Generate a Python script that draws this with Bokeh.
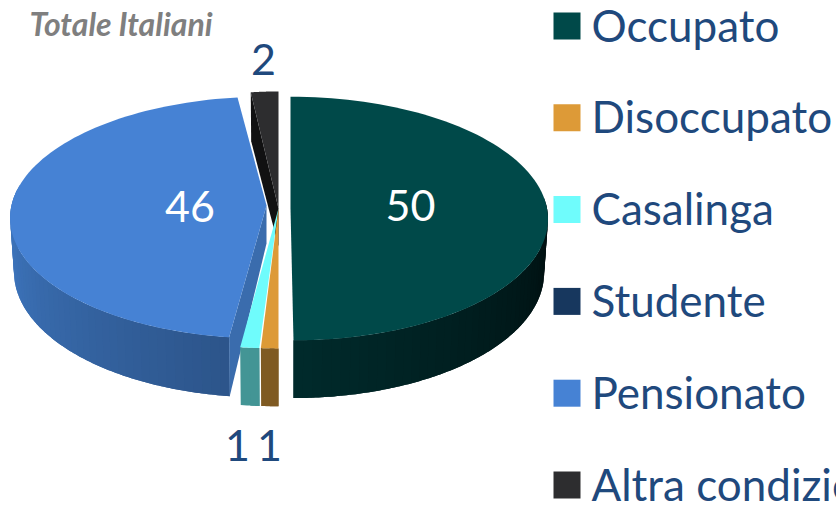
import math
from bokeh.plotting import figure
from bokeh.models import Range1d
from bokeh.core.properties import value
from bokeh.embed import file_html
from bokeh.resources import INLINE

categories = ["Occupato", "Disoccupato", "Casalinga", "Studente", "Pensionato", "Altra condizione"]
shares = [50, 1, 1, 0, 46, 2]
slice_colors = ["#004949", "#DD9A37", "#6FFCFC", "#17375E", "#4682D4", "#2D2D2F"]
title_text = "Totale Italiani"

# geometry of each exploded slice: centre x, centre y, half width, half height, perspective, tilt
geometry = {
    "Occupato": (290, 208, 255, 121, 0.082, 3),
    "Disoccupato": (278, 208, 257, 128, 0.085, 0),
    "Casalinga": (278, 208, 280, 128, 0.085, 0),
    "Pensionato": (266, 205, 254, 119.7, 0.100, -2),
    "Altra condizione": (278, 208, 240, 127, 0.085, 0),
}
DEPTH, APEX_DEPTH, SHRINK = 53, 38, 0.985
wall_colors = {
    "Occupato": ("#002B2C", "#000E0F"),
    "Disoccupato": ("#7F5A22", "#7F5A22"),
    "Casalinga": ("#439595", "#439595"),
    "Pensionato": ("#2B5286", "#3F78C2"),
}
inner_colors = {"Pensionato": "#3A6CAD", "Altra condizione": "#111112"}


def mix(c1, c2, t):
    a = [int(c1[i:i + 2], 16) for i in (1, 3, 5)]
    b = [int(c2[i:i + 2], 16) for i in (1, 3, 5)]
    return "#%02x%02x%02x" % tuple(round(x + (y - x) * t) for x, y in zip(a, b))


def top_point(name, deg):
    cx, cy, a, b, k, tilt = geometry[name]
    th = math.radians(deg)
    u, v = math.sin(th), -math.cos(th)
    w = 1 - k * v
    return cx + a * u / w + tilt * (v + 1) / 2, cy + b * v / w


def bottom_point(name, deg):
    cx, cy, a, b, k, tilt = geometry[name]
    x, y = top_point(name, deg)
    v = -math.cos(math.radians(deg))
    return cx + (x - cx) * SHRINK, y + DEPTH / (1 - k * v)


def arc(d0, d1, n=90):
    return [d0 + (d1 - d0) * i / n for i in range(n + 1)]


spans = {}
acc = 0.0
total = sum(shares)
for c, s in zip(categories, shares):
    spans[c] = (acc, acc + 360.0 * s / total)
    acc += 360.0 * s / total

xs, ys, colors = [], [], []


def add(px, py, col):
    xs.append(px)
    ys.append(py)
    colors.append(col)


def add_inner(name, tip_deg):
    cx, cy = geometry[name][:2]
    tx, ty = top_point(name, tip_deg)
    bx, by = bottom_point(name, tip_deg)
    add([tx, bx, cx, cx], [ty, by, cy + APEX_DEPTH, cy], inner_colors[name])


def add_wall(name, d0, d1, n=48):
    left, right = wall_colors[name]
    ds = arc(d0, d1, n)
    # strips run from the far end towards the near end and overlap, so no seams show
    order = list(range(n))
    if d0 >= 180:
        order = order[::-1]
    for i in order:
        j = min(i + 1, n)
        k0 = max(i - 1, 0) if d0 >= 180 else i
        k1 = j if d0 >= 180 else min(i + 2, n)
        a, b = ds[k0], ds[k1]
        top = [top_point(name, d) for d in arc(a, b, 6)]
        bot = [bottom_point(name, d) for d in arc(b, a, 6)]
        t = min(abs(ds[i] - 180) / 90, 1)
        add([q[0] for q in top + bot], [q[1] for q in top + bot], mix(left, right, t))


def add_top(name, col):
    d0, d1 = spans[name]
    cx, cy = geometry[name][:2]
    pts = [top_point(name, d) for d in arc(d0, d1)]
    add([cx] + [q[0] for q in pts], [cy] + [q[1] for q in pts], col)


color_of = dict(zip(categories, slice_colors))

# back to front
name = "Altra condizione"
add_inner(name, spans[name][0])
add_top(name, color_of[name])

name = "Pensionato"
add_wall(name, spans[name][0], min(spans[name][1], 280))
add_inner(name, spans[name][0])
add_top(name, color_of[name])

name = "Casalinga"
add_wall(name, spans[name][0], spans[name][1], 2)
add_top(name, color_of[name])

name = "Disoccupato"
add_wall(name, spans[name][0], spans[name][1], 2)
add_top(name, color_of[name])

name = "Occupato"
add_wall(name, 85, 180)
add_top(name, color_of[name])

W, H = 836, 505
p = figure(width=W, height=H, output_backend="svg", toolbar_location=None,
           x_range=Range1d(0, W), y_range=Range1d(H, 0), min_border=0)
p.axis.visible = False
p.grid.visible = False
p.outline_line_color = None
p.background_fill_color = "white"
p.border_fill_color = "white"

p.patches(xs, ys, fill_color=colors, line_color=None)

# legend
leg_x, leg_size, leg_top, leg_step = 553, 27, 12, 91.8
for i, (c, col) in enumerate(zip(categories, slice_colors)):
    y0 = leg_top + i * leg_step
    p.quad(left=[leg_x], right=[leg_x + leg_size], top=[y0], bottom=[y0 + leg_size], fill_color=col, line_color=None)
    p.text([591], [y0 + leg_size / 2 - 1.5], text=[c], text_font=value("Lato"), text_font_size="44px",
           text_color="#1F497D", text_align="left", text_baseline="middle")

# data labels
for x, y, s, col in [(410, 205, shares[0], "white"), (189.5, 206, shares[4], "white"),
                     (263, 59, shares[5], "#1F497D"), (237, 445, shares[2], "#1F497D"),
                     (269, 445, shares[1], "#1F497D")]:
    p.text([x], [y], text=[str(s)], text_font=value("Lato"), text_font_size="43px", text_color=col,
           text_align="center", text_baseline="middle")

p.text([29], [23], text=[title_text], text_font=value("Lato"), text_font_size="32px", text_font_style="bold italic",
       text_color="#7F7F7F", text_align="left", text_baseline="middle")

open("out.html", "w").write(file_html(p, INLINE))
